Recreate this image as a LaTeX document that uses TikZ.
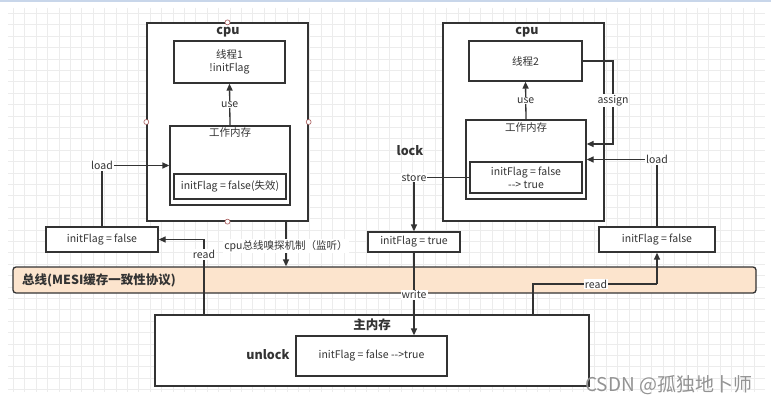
\documentclass[tikz,border=0pt]{standalone}
\usepackage{fontspec}
\setmainfont{Noto Sans CJK SC}
\usetikzlibrary{arrows.meta,calc}
\definecolor{lc}{RGB}{51,51,51}
\definecolor{busfill}{RGB}{252,228,205}
\definecolor{gridc}{RGB}{236,236,236}
\definecolor{topbar}{RGB}{200,214,234}
\definecolor{dotc}{RGB}{170,95,95}
\tikzset{
  box/.style={draw=lc, line width=1.3pt, fill=white, inner sep=0pt, align=center, font=\fontsize{10.5}{13}\selectfont, text=lc},
  lbl/.style={fill=white, inner sep=1pt, font=\fontsize{10.5}{12}\selectfont, text=lc},
  bold/.style={font=\fontsize{12.5}{14}\selectfont\bfseries, text=lc, inner sep=0pt},
  ttl/.style={font=\fontsize{10.5}{12}\selectfont, text=lc, inner sep=0pt},
  conn/.style={draw=lc, line width=1.3pt},
  arr/.style={conn, -{Triangle[length=7pt,width=6pt]}},
  dot/.style={circle, draw=dotc, fill=white, line width=0.6pt, minimum size=5pt, inner sep=0pt},
}
\begin{document}
\begin{tikzpicture}[x=1pt,y=-1pt]
\useasboundingbox (0,0) rectangle (771,404);
\fill[white] (0,0) rectangle (771,404);
\fill[topbar] (0,0) rectangle (771,2.5);
% grid
\foreach \i in {0,...,65} {
  \pgfmathsetmacro{\xx}{13.3+\i*11.4}
  \draw[gridc, line width=0.5pt] (\xx,8) -- (\xx,392);
}
\foreach \j in {0,...,33} {
  \pgfmathsetmacro{\yy}{13.3+\j*11.4}
  \draw[gridc, line width=0.5pt] (8,\yy) -- (765,\yy);
}
% bus
\node[draw=lc, line width=1.3pt, fill=busfill, rounded corners=3pt, minimum width=743pt, minimum height=26pt, inner sep=0pt] (bus) at (384.5,280) {};
\node[bold, anchor=west] (bustxt) at (22,280) {总线(MESI缓存一致性协议)};
% cpu 1
\node[box, minimum width=161pt, minimum height=198pt] (cpu1) at (227.5,122) {};
\node[bold] (cpu1t) at (228,32.5) {cpu};
\node[box, minimum width=111pt, minimum height=42pt] (t1) at (229.5,62) {线程1\\!initFlag};
\node[box, minimum width=120pt, minimum height=79pt] (wm1) at (230,165.5) {};
\node[ttl] (wm1t) at (230,133) {工作内存};
\node[box, minimum width=112pt, minimum height=25pt] (in1) at (230,186.5) {initFlag = false(失效)};
\node[dot] (d1) at (cpu1.north) {};
\node[dot] (d2) at (cpu1.west) {};
\node[dot] (d3) at (cpu1.east) {};
\node[dot] (d4) at (cpu1.south) {};
% cpu 2
\node[box, minimum width=161pt, minimum height=198pt] (cpu2) at (523.5,122) {};
\node[bold] (cpu2t) at (527,32.5) {cpu};
\node[box, minimum width=113pt, minimum height=40pt] (t2) at (525.5,61) {线程2};
\node[box, minimum width=120pt, minimum height=79pt] (wm2) at (526,159.5) {};
\node[ttl] (wm2t) at (526,128) {工作内存};
\node[box, minimum width=112pt, minimum height=31pt] (in2) at (526,177.5) {initFlag = false\\{-}{-}> true};
% copies
\node[box, minimum width=112pt, minimum height=25pt] (lf) at (102,239.5) {initFlag = false};
\node[box, minimum width=116pt, minimum height=25pt] (rf) at (657,239.5) {initFlag = false};
\node[box, minimum width=92pt, minimum height=20pt] (tf) at (414,242) {initFlag = true};
% main memory
\node[box, minimum width=434pt, minimum height=71pt] (main) at (372,350.5) {};
\node[bold] (maint) at (372,325) {主内存};
\node[bold] (unlock) at (268,355) {unlock};
\node[box, minimum width=151pt, minimum height=40pt] (mi) at (371.5,356) {initFlag = false {-}{-}>true};
\node[bold] (lock) at (410,151) {lock};
% coordinates
\coordinate (s1) at (286,221);
\coordinate (mr1) at (204,315);
\coordinate (mr2) at (533,315);
\coordinate (rc) at (657,284);
\coordinate (ac) at (613,144);
% connectors
\draw[arr] (wm1.north) -- node[lbl]{use} (t1.south);
\draw[arr] (wm2.north) -- node[lbl]{use} (t2.south);
\draw[arr] (lf.north) |- node[lbl,pos=0.5]{load} (wm1.west);
\draw[arr] (rf.north) |- node[lbl,pos=0.5]{load} (wm2.east);
\draw[arr] (mr1) |- node[lbl,pos=0.4]{read} (lf.east);
\draw[arr] (s1) -- node[lbl,pos=0.55]{cpu总线嗅探机制（监听）} (s1 |- bus.north);
\draw[arr] (t2.east) -| node[lbl,pos=0.74]{assign} (ac) -- (ac -| wm2.east);
\draw[arr] (in2.west) -| node[lbl,pos=0.5]{store} (tf.north);
\draw[arr] (tf.south) -- node[lbl,pos=0.51]{write} (tf.south |- mi.north);
\draw[conn] (mr2) |- node[lbl,pos=0.754]{read} (rc);
\draw[arr] (rc) -- (rf.south);
% watermark
\node[anchor=west, text=gray!85, font=\fontsize{19}{21}\selectfont, inner sep=0pt] (wmk) at (585,385) {CSDN @孤独地卜师};
\end{tikzpicture}
\end{document}
